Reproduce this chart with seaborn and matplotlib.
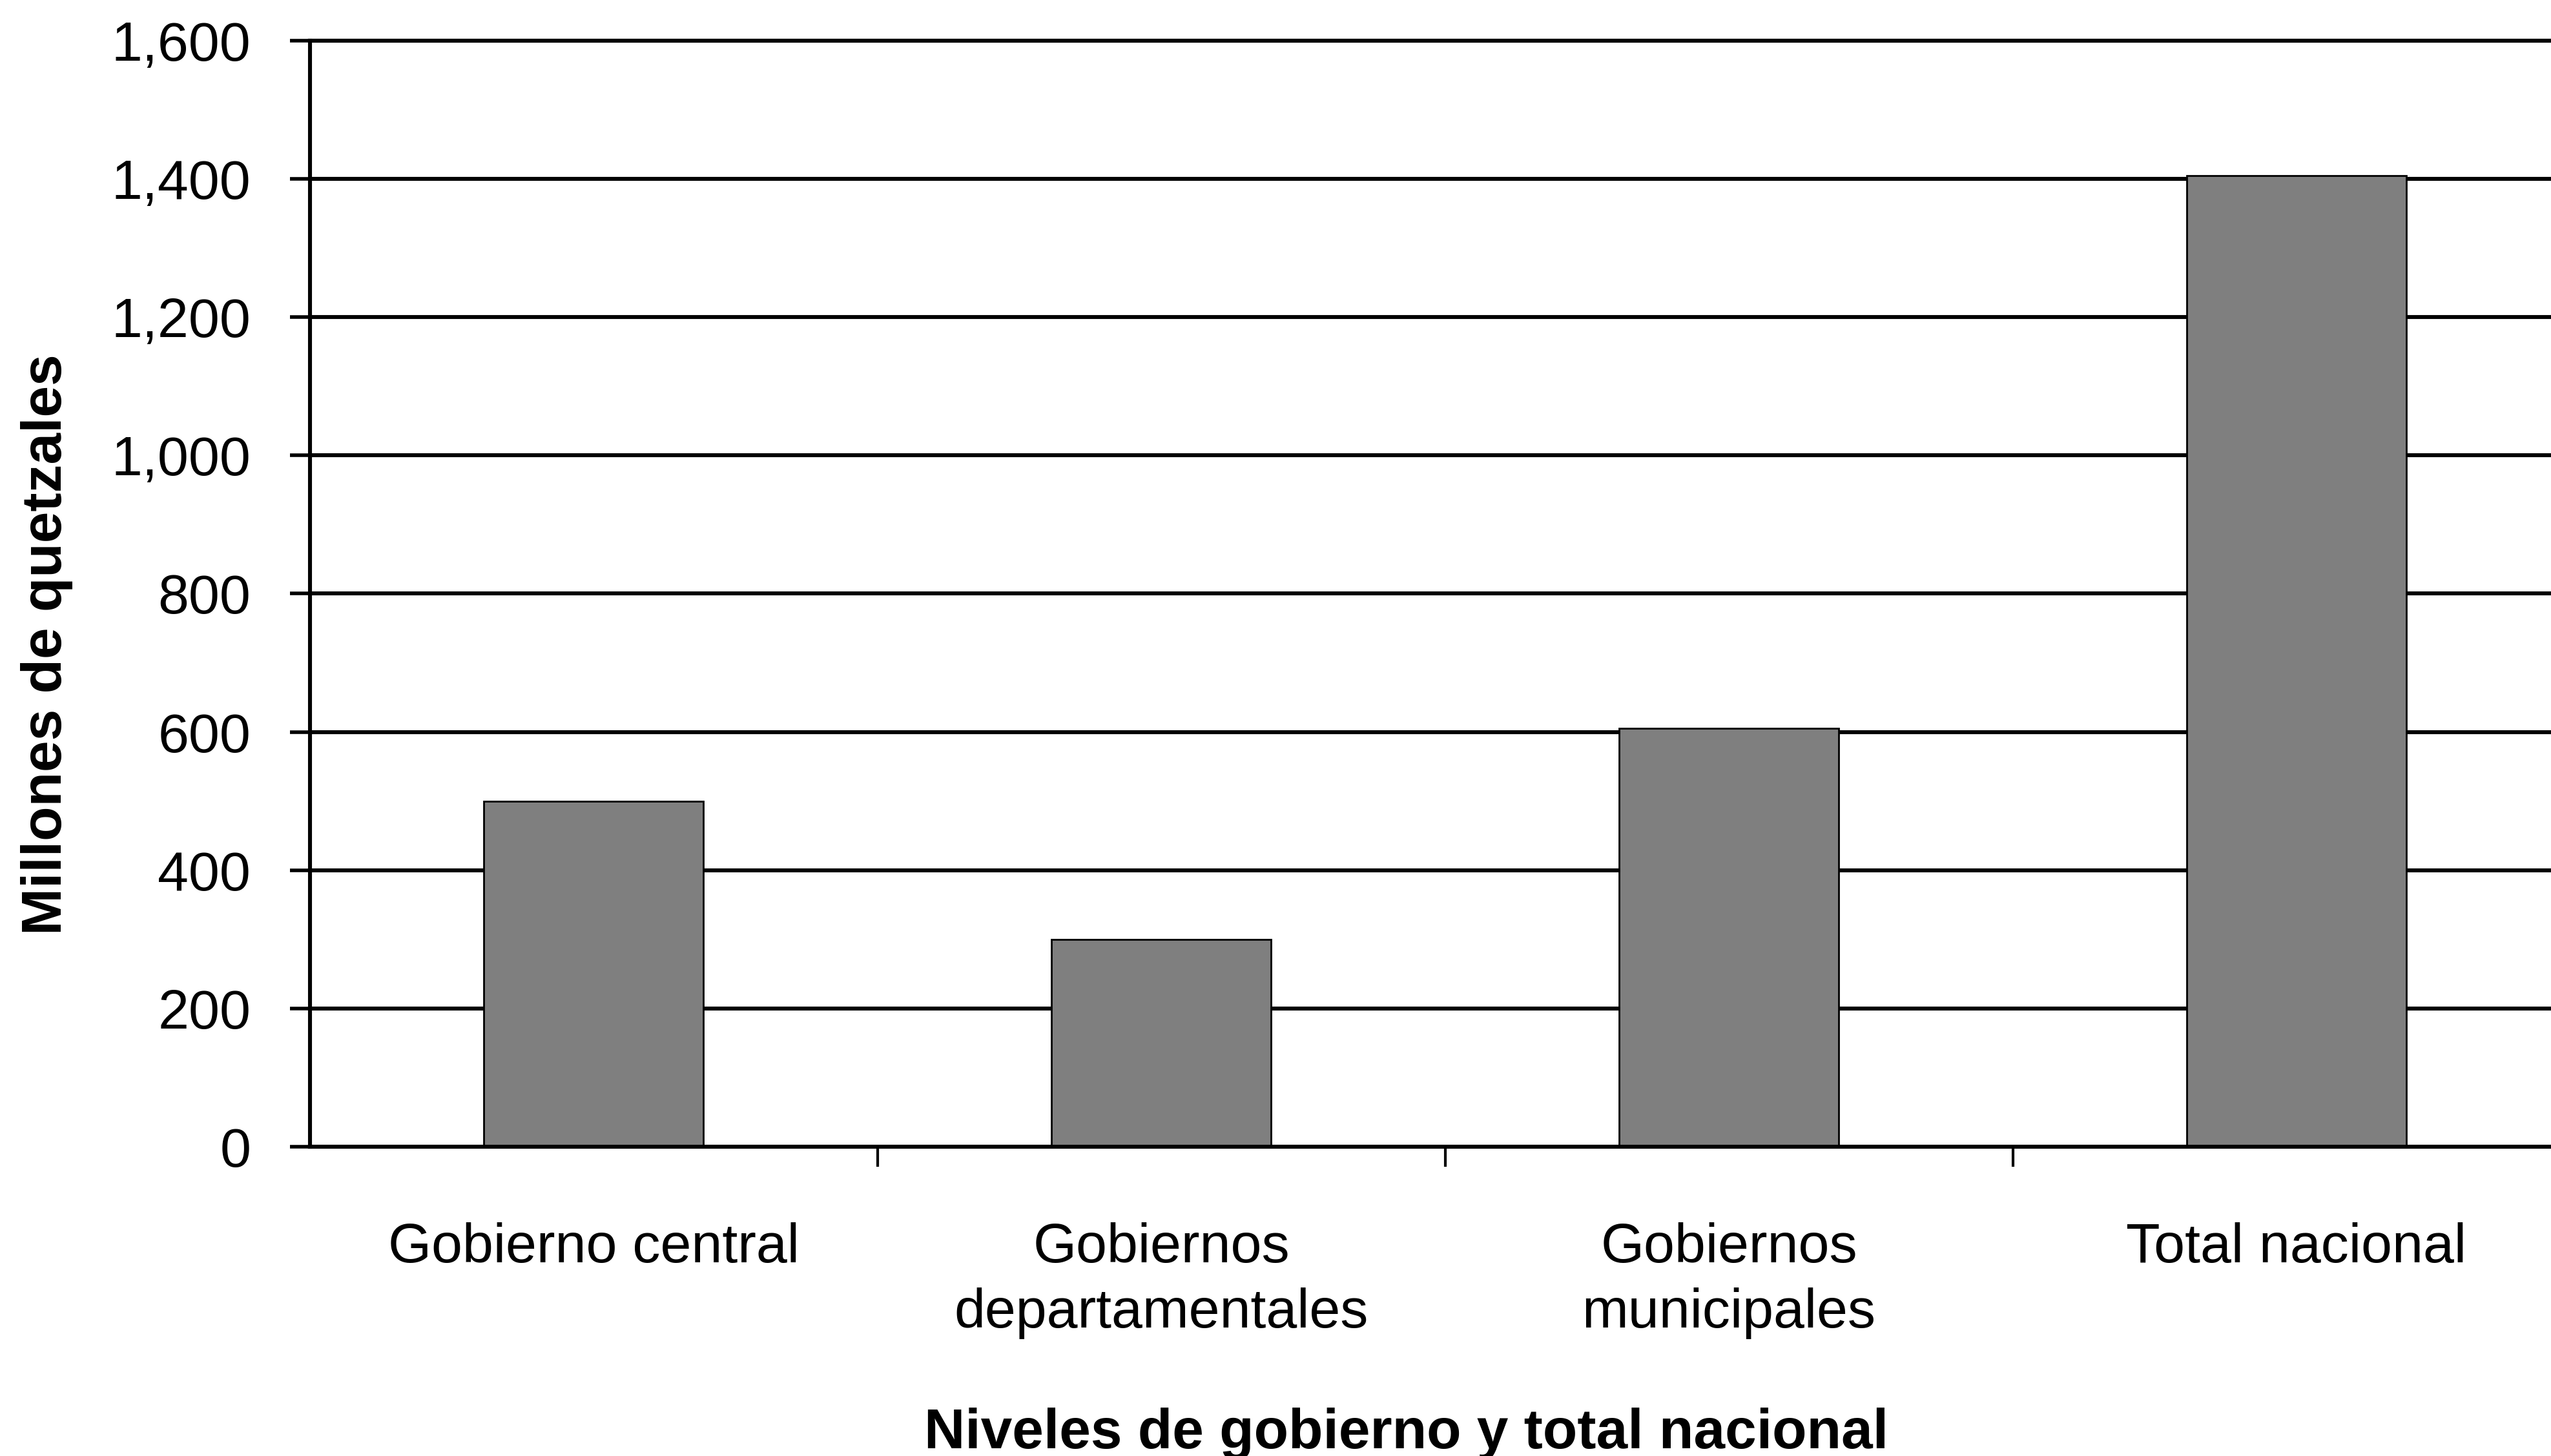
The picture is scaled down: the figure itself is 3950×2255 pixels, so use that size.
import pandas as pd
import seaborn as sns
import matplotlib.pyplot as plt
from matplotlib.ticker import FixedLocator, FuncFormatter

# valores (millones de quetzales)
categorias = ["Gobierno central", "Gobiernos\ndepartamentales",
              "Gobiernos\nmunicipales", "Total nacional"]
valores = [500, 300, 605, 1405]
y_ticks = [0, 200, 400, 600, 800, 1000, 1200, 1400, 1600]
separadores = [0.5, 1.5, 2.5]

df = pd.DataFrame({"nivel": categorias, "millones": valores})

sns.set_theme(style="white")
plt.rcParams["font.family"] = ["Liberation Sans", "DejaVu Sans"]
plt.rcParams["text.color"] = "black"
plt.rcParams["axes.labelcolor"] = "black"
plt.rcParams["xtick.color"] = "black"
plt.rcParams["ytick.color"] = "black"

fig = plt.figure(figsize=(19.75, 11.275), dpi=200)
fig.patch.set_facecolor("white")
ax = fig.add_axes([0.1215, 0.2124, 0.890, 0.7597])

sns.barplot(data=df, x="nivel", y="millones", color="#7f7f7f",
            saturation=1, edgecolor="black", linewidth=1.0,
            width=0.387, ax=ax)

ax.set_xlim(-0.5, 3.5)
ax.set_ylim(0, 1600)
ax.yaxis.set_major_locator(FixedLocator(y_ticks))
ax.yaxis.set_major_formatter(FuncFormatter(lambda v, p: f"{v:,.0f}"))

ax.yaxis.grid(True, color="black", linewidth=2.2)
ax.set_axisbelow(True)

for side in ["left", "bottom", "top"]:
    ax.spines[side].set_visible(True)
    ax.spines[side].set_color("black")
    ax.spines[side].set_linewidth(2.2)
ax.spines["right"].set_visible(False)

ax.xaxis.set_minor_locator(FixedLocator(separadores))
ax.tick_params(axis="x", which="minor", bottom=True, length=11, width=1.5,
               direction="out", color="black")
ax.tick_params(axis="x", which="major", bottom=True, length=0, pad=42,
               labelsize=31)
ax.tick_params(axis="y", which="major", left=True, length=11, width=2,
               direction="out", pad=22, labelsize=31, color="black")
for lbl in ax.get_xticklabels():
    lbl.set_linespacing(1.35)

ax.set_ylabel("Millones de quetzales", fontsize=31.5, fontweight="bold")
ax.yaxis.set_label_coords(-0.1044, 0.454)
ax.set_xlabel("Niveles de gobierno y total nacional", fontsize=31.5,
              fontweight="bold", va="top")
ax.xaxis.set_label_coords(0.483, -0.236)

fig.savefig("out.png", dpi=200)
